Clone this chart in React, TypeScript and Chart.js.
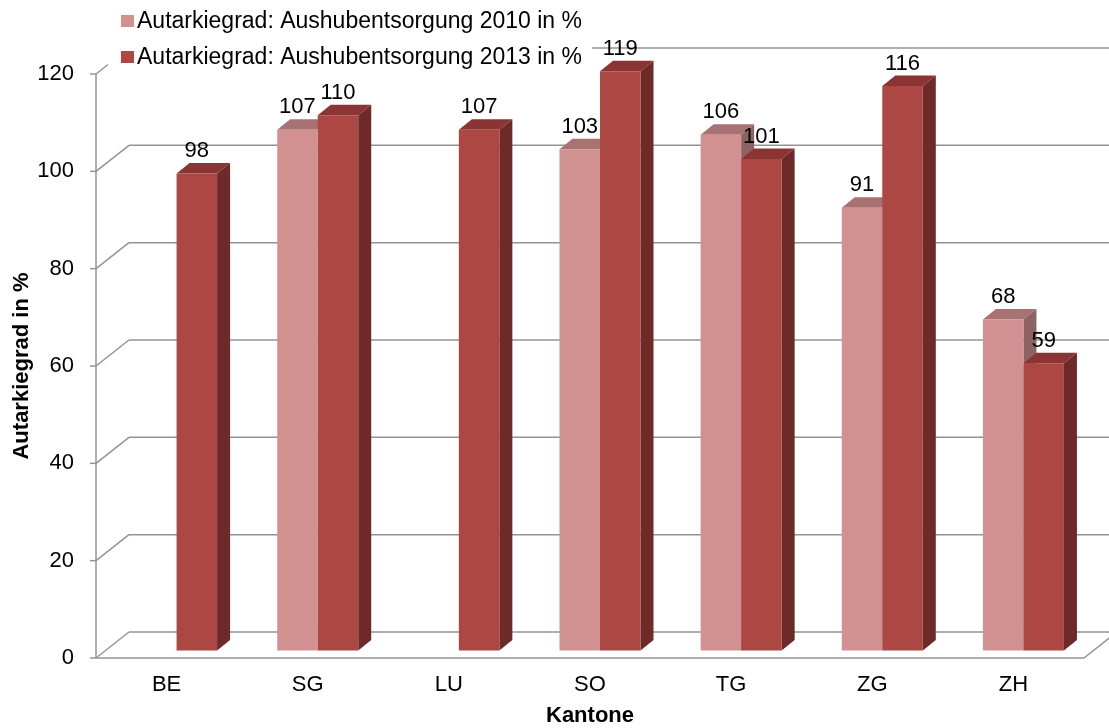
import React, { useEffect, useRef } from "react";
import { Chart, registerables } from "chart.js";

Chart.register(...registerables);

const categories = ["BE", "SG", "LU", "SO", "TG", "ZG", "ZH"];
const series2010 = [null, 107, null, 103, 106, 91, 68];
const series2013 = [98, 110, 107, 119, 101, 116, 59];
const seriesNames = [
  "Autarkiegrad: Aushubentsorgung 2010 in %",
  "Autarkiegrad: Aushubentsorgung 2013 in %",
];
const yTitle = "Autarkiegrad in %";
const xTitle = "Kantone";

const FONT = "'Liberation Sans', Arial, sans-serif";
const COLORS = [
  { front: "#D29191", top: "#A87272", side: "#8D6262" },
  { front: "#AD4744", top: "#8A3533", side: "#6D2A29" },
];
const WALL_DX = 33;
const WALL_DY = 26;
const SHIFT_X = 10;
const SHIFT_Y = -7.5;
const BAR_DX = 13;
const BAR_DY = 10.5;
const GRID = "#949494";

const threeD = {
  id: "threeD",
  beforeDatasetsDraw(chart: any) {
    const ctx = chart.ctx;
    const ys = chart.scales.y;
    const { left, right, top, bottom } = chart.chartArea;
    ctx.save();
    ctx.strokeStyle = GRID;
    ctx.lineWidth = 1.5;
    const line = (x1: number, y1: number, x2: number, y2: number) => {
      ctx.beginPath();
      ctx.moveTo(x1, y1);
      ctx.lineTo(x2, y2);
      ctx.stroke();
    };
    ys.ticks.forEach((t: any) => {
      const py = ys.getPixelForValue(t.value);
      line(left, py, left + WALL_DX, py - WALL_DY);
      line(left + WALL_DX, py - WALL_DY, right + WALL_DX, py - WALL_DY);
      line(left - 6, py, left, py);
    });
    line(left, top, left, bottom);
    line(left, bottom, right, bottom);
    line(right, bottom, right + WALL_DX, bottom - WALL_DY);
    ctx.restore();

    ctx.save();
    ctx.translate(SHIFT_X, SHIFT_Y);
    chart.data.datasets.forEach((ds: any, di: number) => {
      const meta = chart.getDatasetMeta(di);
      meta.data.forEach((bar: any, i: number) => {
        if (ds.data[i] == null) return;
        const l = bar.x - bar.width / 2;
        const r = bar.x + bar.width / 2;
        const t = bar.y;
        const b = bar.base;
        ctx.fillStyle = COLORS[di].top;
        ctx.beginPath();
        ctx.moveTo(l, t);
        ctx.lineTo(l + BAR_DX, t - BAR_DY);
        ctx.lineTo(r + BAR_DX, t - BAR_DY);
        ctx.lineTo(r, t);
        ctx.closePath();
        ctx.fill();
        ctx.fillStyle = COLORS[di].side;
        ctx.beginPath();
        ctx.moveTo(r, t);
        ctx.lineTo(r + BAR_DX, t - BAR_DY);
        ctx.lineTo(r + BAR_DX, b - BAR_DY);
        ctx.lineTo(r, b);
        ctx.closePath();
        ctx.fill();
      });
    });
  },
  afterDatasetsDraw(chart: any) {
    const ctx = chart.ctx;
    ctx.fillStyle = "#000";
    ctx.font = `22px ${FONT}`;
    ctx.textAlign = "center";
    ctx.textBaseline = "bottom";
    chart.data.datasets.forEach((ds: any, di: number) => {
      const meta = chart.getDatasetMeta(di);
      meta.data.forEach((bar: any, i: number) => {
        const v = ds.data[i];
        if (v == null) return;
        ctx.fillText(String(v), bar.x, bar.y - BAR_DY - 1);
      });
    });
    ctx.restore();
  },
  afterDraw(chart: any) {
    const ctx = chart.ctx;
    ctx.save();
    ctx.fillStyle = "#fff";
    ctx.fillRect(108, 0, 484, 71);
    const rows = [21, 57];
    ctx.font = `23px ${FONT}`;
    ctx.textAlign = "left";
    ctx.textBaseline = "middle";
    seriesNames.forEach((name, i) => {
      ctx.fillStyle = COLORS[i].front;
      ctx.fillRect(121, rows[i] - 6, 13, 12);
      ctx.fillStyle = "#000";
      ctx.fillText(name, 137, rows[i] + 1);
    });
    ctx.restore();
  },
};

export default function App() {
  const ref = useRef<HTMLCanvasElement | null>(null);
  useEffect(() => {
    if (!ref.current) return;
    const chart = new Chart(ref.current, {
      type: "bar",
      data: {
        labels: categories,
        datasets: [
          {
            label: seriesNames[0],
            data: series2010 as any,
            backgroundColor: COLORS[0].front,
            borderWidth: 0,
            clip: false as any,
          },
          {
            label: seriesNames[1],
            data: series2013,
            backgroundColor: COLORS[1].front,
            borderWidth: 0,
            clip: false as any,
          },
        ],
      },
      options: {
        responsive: false,
        animation: false,
        devicePixelRatio: 1,
        layout: { padding: { top: 74, right: 25, left: 0, bottom: 0 } },
        datasets: {
          bar: { categoryPercentage: 0.574, barPercentage: 1 },
        },
        plugins: {
          legend: { display: false },
          tooltip: { enabled: false },
        },
        scales: {
          x: {
            grid: { display: false, drawTicks: false },
            border: { display: false },
            ticks: { color: "#000", font: { family: FONT, size: 22 }, padding: 14 },
            title: {
              display: true,
              text: xTitle,
              color: "#000",
              font: { family: FONT, size: 22, weight: "bold" },
              padding: { top: 0, bottom: -1 },
            },
            afterFit: (s: any) => {
              s.height = 70;
            },
          },
          y: {
            min: 0,
            max: 120,
            ticks: { stepSize: 20, color: "#000", font: { family: FONT, size: 22 }, padding: 22 },
            grid: { display: false, drawTicks: false },
            border: { display: false },
            title: {
              display: true,
              text: yTitle,
              color: "#000",
              font: { family: FONT, size: 22, weight: "bold" },
              padding: { top: 9, bottom: 0 },
            },
            afterFit: (s: any) => {
              s.width = 96;
            },
          },
        },
      },
      plugins: [threeD],
    });
    return () => chart.destroy();
  }, []);
  return (
    <div style={{ position: "absolute", left: 0, top: 0, width: 1109, height: 728, background: "#fff" }}>
      <canvas ref={ref} width={1109} height={728} style={{ display: "block" }} />
    </div>
  );
}
